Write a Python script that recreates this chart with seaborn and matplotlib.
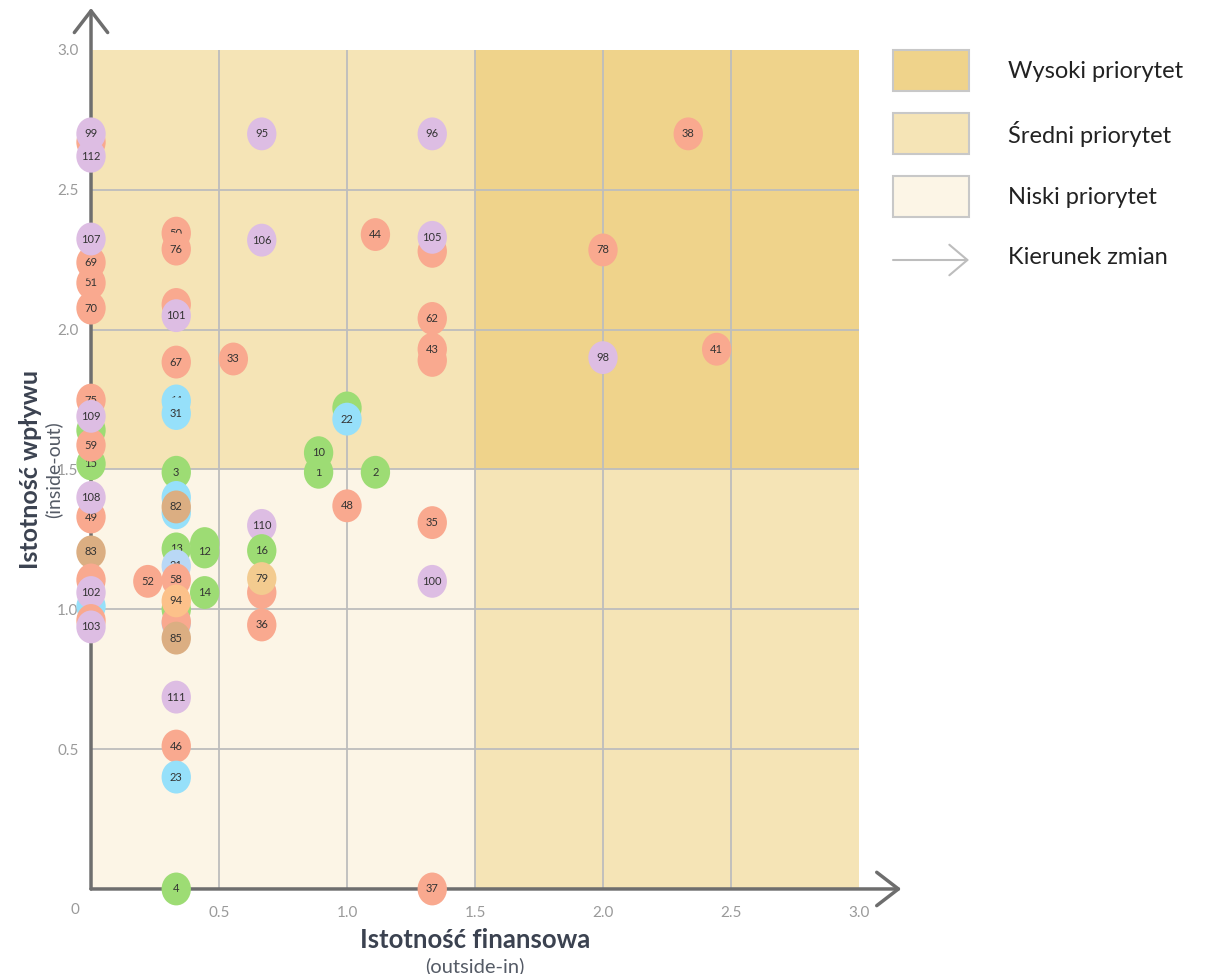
import matplotlib
matplotlib.use("Agg")
import matplotlib.pyplot as plt
import numpy as np
import seaborn as sns
from matplotlib.markers import MarkerStyle
from matplotlib.patches import FancyArrowPatch, Rectangle
from matplotlib.path import Path
from matplotlib.transforms import Affine2D

# topic labels, drawn in this order (later ones sit on top)
labels = ["", "112", "99", "95", "96", "38",
          "70", "51", "69", "107", "50", "76", "106", "44", "", "105", "78",
          "", "101", "62", "", "43", "67", "33", "98", "41",
          "15", "", "59", "75", "109", "11", "31", "8", "22",
          "1", "10", "2", "3", "", "", "82", "49", "108", "48", "110", "35",
          "83", "13", "", "12", "16", "21", "", "", "102", "", "103",
          "52", "58", "14", "", "", "", "94", "85", "", "79", "100", "36",
          "111", "46", "23", "4", "37"]
# financial materiality (outside-in)
fin = [0, 0, 0, 0.667, 1.333, 2.333,
       0, 0, 0, 0, 0.333, 0.333, 0.667, 1.111, 1.333, 1.333, 2.0,
       0.333, 0.333, 1.333, 1.333, 1.333, 0.333, 0.556, 2.0, 2.444,
       0, 0, 0, 0, 0, 0.333, 0.333, 1.0, 1.0,
       0.889, 0.889, 1.111, 0.333, 0.333, 0.333, 0.333, 0, 0, 1.0, 0.667, 1.333,
       0, 0.333, 0.444, 0.444, 0.667, 0.333, 0, 0, 0, 0, 0,
       0.222, 0.333, 0.444, 0.333, 0.333, 0.333, 0.333, 0.333, 0.667, 0.667, 1.333, 0.667,
       0.333, 0.333, 0.333, 0.333, 1.333]
# impact materiality (inside-out)
imp = [2.67, 2.62, 2.70, 2.70, 2.70, 2.70,
       2.077, 2.167, 2.24, 2.324, 2.345, 2.288, 2.32, 2.34, 2.28, 2.33, 2.285,
       2.09, 2.05, 2.04, 1.89, 1.93, 1.884, 1.895, 1.90, 1.93,
       1.52, 1.64, 1.587, 1.748, 1.69, 1.745, 1.70, 1.72, 1.68,
       1.49, 1.56, 1.49, 1.49, 1.40, 1.345, 1.366, 1.33, 1.40, 1.37, 1.30, 1.31,
       1.205, 1.216, 1.235, 1.205, 1.21, 1.155, 1.105, 1.01, 1.06, 0.96, 0.937,
       1.10, 1.105, 1.06, 1.0, 0.95, 0.955, 1.03, 0.897, 1.06, 1.11, 1.10, 0.944,
       0.686, 0.511, 0.40, 0.0, 0.0]
# topic group (colour)
group = ["s", "p", "p", "p", "p", "s",
         "s", "s", "s", "p", "s", "s", "p", "s", "s", "p", "s",
         "s", "p", "s", "s", "s", "s", "s", "p", "s",
         "g", "g", "s", "s", "p", "b", "b", "g", "b",
         "g", "g", "g", "g", "b", "b", "t", "s", "p", "s", "p", "s",
         "t", "g", "g", "g", "g", "lb", "s", "b", "p", "s", "p",
         "s", "s", "g", "g", "lb", "s", "o", "t", "s", "pe", "p", "s",
         "p", "s", "b", "g", "s"]

colors = {"s": "#F9A98F", "g": "#9DDC74", "b": "#96E0FA", "p": "#DDBDE3",
          "t": "#DBAE82", "o": "#FCC18A", "pe": "#F3CB8F", "lb": "#B9D8F6"}

legend_names = ["Wysoki priorytet", "Średni priorytet", "Niski priorytet", "Kierunek zmian"]
ticks = [0.5, 1.0, 1.5, 2.0, 2.5, 3.0]

sns.set_theme(style="white")
plt.rcParams["font.family"] = ["Lato", "DejaVu Sans"]

HIGH, MID, LOW = "#EFD38B", "#F5E4B6", "#FCF5E6"

fig = plt.figure(figsize=(12.2, 9.74), dpi=100)
ax = fig.add_axes([0.0746, 0.0873, 0.6295, 0.8614])
ax.set_xlim(0, 3)
ax.set_ylim(0, 3)

# priority zones
ax.add_patch(Rectangle((0, 0), 1.5, 1.5, color=LOW, zorder=0, lw=0))
ax.add_patch(Rectangle((0, 1.5), 1.5, 1.5, color=MID, zorder=0, lw=0))
ax.add_patch(Rectangle((1.5, 0), 1.5, 1.5, color=MID, zorder=0, lw=0))
ax.add_patch(Rectangle((1.5, 1.5), 1.5, 1.5, color=HIGH, zorder=0, lw=0))
for v in ticks[:-1]:
    ax.axvline(v, color="#BDBDBD", lw=1.3, zorder=0.5)
    ax.axhline(v, color="#BDBDBD", lw=1.3, zorder=0.5)

for s in ax.spines.values():
    s.set_visible(False)

# axis arrows
arrow = dict(arrowstyle="->,head_length=1.3,head_width=1.0", color="#6E6E6E", lw=2.5,
             shrinkA=0, shrinkB=0)
ax.annotate("", xy=(0, 1.05), xytext=(0, 0), xycoords="axes fraction",
            arrowprops=arrow, zorder=1)
ax.annotate("", xy=(1.055, 0), xytext=(0, 0), xycoords="axes fraction",
            arrowprops=arrow, zorder=1)

# elliptic bubble marker
ell = Path.unit_circle().transformed(Affine2D().scale(1.0, 1.12))
marker = MarkerStyle(ell)

for i, (lab, x, y, g) in enumerate(zip(labels, fin, imp, group)):
    sns.scatterplot(x=[x], y=[y], ax=ax, marker=marker, s=560, color=colors[g],
                    edgecolor="none", linewidth=0, zorder=3 + i * 0.01,
                    clip_on=False, legend=False)
    ax.text(x, y, lab, ha="center", va="center", fontsize=8, color="#333333",
            zorder=3 + i * 0.01 + 0.005, clip_on=False)

ax.set_xticks(ticks)
ax.set_yticks(ticks)
ax.set_xticklabels([f"{t:.1f}" for t in ticks])
ax.set_yticklabels([f"{t:.1f}" for t in ticks])
ax.tick_params(axis="x", length=0, pad=12, labelsize=11, labelcolor="#9A9A9A")
ax.tick_params(axis="y", length=0, pad=9, labelsize=11, labelcolor="#9A9A9A")
ax.text(-0.0625, -0.075, "0", ha="center", va="center", fontsize=11,
        color="#9A9A9A", clip_on=False)
ax.set_xlabel("")
ax.set_ylabel("")

ax.text(0.5, -0.061, "Istotność finansowa", transform=ax.transAxes, ha="center",
        va="center", fontsize=18.5, fontweight="bold", color="#3B4250")
ax.text(0.5, -0.092, "(outside-in)", transform=ax.transAxes, ha="center",
        va="center", fontsize=14.5, color="#555B66")
ax.text(-0.079, 0.5, "Istotność wpływu", transform=ax.transAxes, ha="center",
        va="center", fontsize=18, fontweight="bold", color="#3B4250", rotation=90)
ax.text(-0.049, 0.5, "(inside-out)", transform=ax.transAxes, ha="center",
        va="center", fontsize=14, color="#555B66", rotation=90)

# legend
W, H = 1220, 974
for name, fc, top in zip(legend_names[:3], [HIGH, MID, LOW], [50, 113, 176]):
    fig.add_artist(Rectangle((893 / W, 1 - (top + 41) / H), 76 / W, 41 / H,
                             transform=fig.transFigure, facecolor=fc,
                             edgecolor="#C8C8C8", lw=1.5))
    fig.text(1008 / W, 1 - (top + 21) / H, name, ha="left", va="center",
             fontsize=17, color="#222222")
fig.add_artist(FancyArrowPatch(
    (893 / W, 1 - 260 / H), (969 / W, 1 - 260 / H), transform=fig.transFigure,
    arrowstyle="->,head_length=1.3,head_width=1.1", color="#BDBDBD", lw=1.5,
    mutation_scale=10, shrinkA=0, shrinkB=0))
fig.text(1008 / W, 1 - 258 / H, legend_names[3], ha="left", va="center",
         fontsize=17, color="#222222")

fig.savefig("out.png", dpi=100)
